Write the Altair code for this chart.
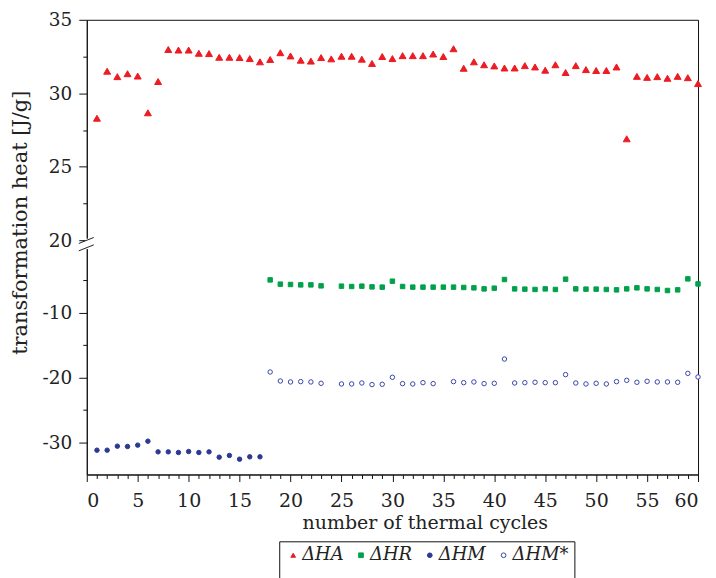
import altair as alt
import pandas as pd

# ---- data ----
series_names = ["ΔHA", "ΔHR", "ΔHM", "ΔHM*"]

cycles_A = list(range(1, 61))
dH_A = [28.3, 31.5, 31.13, 31.33, 31.17, 28.67, 30.8, 32.98, 32.94, 32.94,
        32.72, 32.7, 32.45, 32.45, 32.43, 32.36, 32.14, 32.3, 32.76, 32.54,
        32.25, 32.19, 32.43, 32.34, 32.52, 32.52, 32.32, 32.03, 32.5, 32.36,
        32.56, 32.56, 32.56, 32.67, 32.5, 33.03, 31.7, 32.14, 31.94, 31.86,
        31.72, 31.72, 31.88, 31.79, 31.57, 31.94, 31.41, 31.88, 31.61, 31.55,
        31.55, 31.79, 26.9, 31.15, 31.08, 31.13, 31.02, 31.15, 31.06, 30.66]

cycles_R = list(range(18, 24)) + list(range(25, 61))
dH_R = [-4.91, -5.57, -5.62, -5.68, -5.68, -5.83,
        -5.88, -5.93, -5.88, -5.99, -6.03, -5.11, -5.93, -6.03, -6.03, -6.03,
        -6.03, -6.03, -6.08, -6.14, -6.3, -6.19, -4.85, -6.3, -6.34, -6.39,
        -6.3, -6.39, -4.8, -6.3, -6.34, -6.34, -6.39, -6.45, -6.3, -6.14,
        -6.3, -6.39, -6.55, -6.45, -4.75, -5.53]

cycles_M = list(range(1, 18))
dH_M = [-31.24, -31.24, -30.62, -30.67, -30.46, -29.85, -31.5, -31.5, -31.6,
        -31.45, -31.6, -31.5, -32.32, -32.06, -32.63, -32.27, -32.27]

cycles_Ms = list(range(18, 24)) + list(range(25, 35)) + list(range(36, 61))
dH_Ms = [-19.15, -20.54, -20.69, -20.64, -20.69, -20.9,
         -21.0, -21.0, -20.85, -21.1, -21.05, -19.97, -20.95, -21.0, -20.8, -20.95,
         -20.64, -20.8, -20.69, -20.95, -20.9, -17.15, -20.85, -20.8, -20.74,
         -20.8, -20.8, -19.56, -20.85, -21.0, -20.9, -21.0, -20.64, -20.44,
         -20.74, -20.59, -20.69, -20.69, -20.74, -19.36, -19.92]

y_major = [-30, -20, -10, 20, 25, 30, 35]
y_minor = [-25, -15, -5, 22.5, 27.5, 32.5]
x_ticks = list(range(0, 61))

rows = []
for name, xs, ys in zip(series_names,
                        [cycles_A, cycles_R, cycles_M, cycles_Ms],
                        [dH_A, dH_R, dH_M, dH_Ms]):
    for x, y in zip(xs, ys):
        rows.append({"cycle": x, "heat": y, "series": name})
df = pd.DataFrame(rows)

FONT = "DejaVu Serif"
TXT = "#222222"
W, H = 613, 456

fill_range = ["#ec1c24", "#00a14b", "#2b3990", "#ffffff"]
stroke_range = ["#ec1c24", "#00a14b", "#2b3990", "#3a47a8"]
shape_range = ["triangle-up", "square", "circle", "circle"]

major_test = "indexof(" + str(y_major) + ", datum.value) >= 0"

legend = alt.Legend(
    title=" ", titleOrient="bottom", titleFontSize=10, titlePadding=6,
    orient="none", legendX=193, legendY=523,
    direction="horizontal", columns=4,
    strokeColor="#111111", fillColor="white",
    padding=5, columnPadding=8, labelFont=FONT, labelFontSize=18,
    labelFontStyle="italic", labelFontWeight="normal", labelColor=TXT,
    symbolSize=22, labelOffset=0, symbolStrokeWidth=1,
)

x_enc = alt.X("cycle:Q",
              scale=alt.Scale(domain=[0, 60], nice=False, zero=False),
              axis=alt.Axis(
                  values=x_ticks,
                  labelExpr="datum.value % 5 === 0 ? datum.label : ''",
                  labelOverlap=False,
                  tickSize={"condition": {"test": "datum.value % 5 === 0", "value": 7}, "value": 4},
                  title="number of thermal cycles",
                  titleX=339, titleY=48, titleBaseline="middle",
                  labelPadding=10, labelFontSize=19,
              ))
y_enc = alt.Y("heat:Q",
              scale=alt.Scale(domain=[-35, 0, 20, 35], range=[H, 229, 221, 0],
                              nice=False, zero=False),
              axis=alt.Axis(
                  values=y_major + y_minor,
                  labelExpr=major_test + " ? ('' + datum.value) : ''",
                  labelOverlap=False,
                  tickSize={"condition": {"test": major_test, "value": 8}, "value": 4},
                  title="transformation heat [J/g]", titleFontSize=21,
                  titleX=-66, titleY=203, titleBaseline="middle",
                  labelPadding=7, labelFontSize=18.5,
              ))
shape_enc = alt.Shape("series:N", scale=alt.Scale(domain=series_names, range=shape_range),
                      legend=legend)
fill_enc = alt.Fill("series:N", scale=alt.Scale(domain=series_names, range=fill_range),
                    legend=legend)
stroke_enc = alt.Stroke("series:N", scale=alt.Scale(domain=series_names, range=stroke_range),
                        legend=legend)

base = alt.Chart(df).encode(x=x_enc, y=y_enc, shape=shape_enc, fill=fill_enc, stroke=stroke_enc)
tri = base.mark_point(opacity=1, strokeWidth=1, size=48).transform_filter(
    alt.datum.series == series_names[0])
others = base.mark_point(opacity=1, strokeWidth=1, size=20).transform_filter(
    alt.datum.series != series_names[0])

one = alt.Data(values=[{}])
gap = alt.Chart(one).mark_rule(color="white", strokeWidth=3).encode(
    x=alt.value(0), y=alt.value(219.5), y2=alt.value(230))
slash1 = alt.Chart(one).mark_rule(color="#222222", strokeWidth=1).encode(
    x=alt.value(-8), x2=alt.value(7), y=alt.value(224.3), y2=alt.value(218.3))
slash2 = alt.Chart(one).mark_rule(color="#222222", strokeWidth=1).encode(
    x=alt.value(-8), x2=alt.value(7), y=alt.value(231.7), y2=alt.value(225.7))

chart = alt.layer(tri, others, gap, slash1, slash2).properties(
    width=W, height=H,
    autosize=alt.AutoSizeParams(type="none"),
    padding={"left": 79, "top": 11, "right": 10, "bottom": 110},
).configure(
    font=FONT
).configure_view(
    stroke="#111111", strokeWidth=1
).configure_axis(
    labelFont=FONT, titleFont=FONT, titleFontSize=19,
    labelColor=TXT, titleColor=TXT, domainColor="#111111", tickColor="#111111",
    titleFontWeight="normal", grid=False,
).configure_legend(
    labelFont=FONT, titleFont=FONT,
)

chart.save("out.html", embed_options={"renderer": "svg", "actions": False})
